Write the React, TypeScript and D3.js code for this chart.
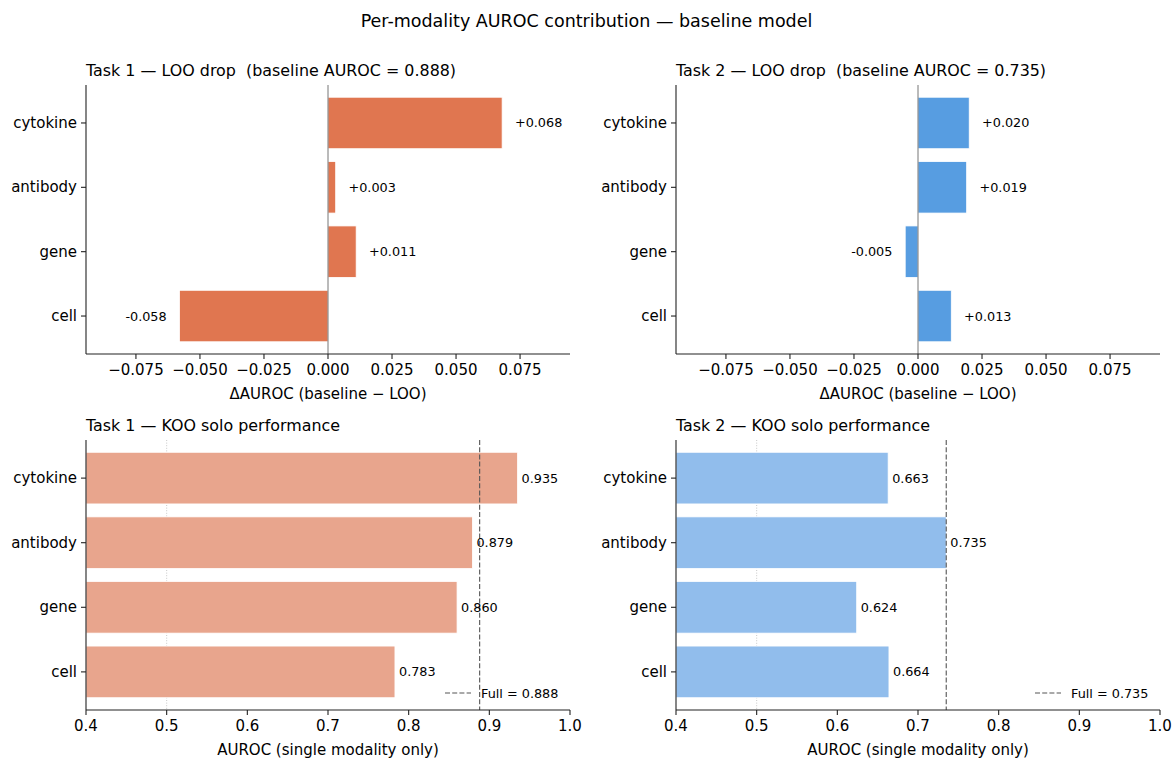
import React from 'react';
import * as d3 from 'd3';

// categories, top to bottom
const modalities = ['cytokine', 'antibody', 'gene', 'cell'];

// leave-one-out drop (baseline - LOO)
const task1Loo = [0.068, 0.003, 0.011, -0.058];
const task2Loo = [0.020, 0.019, -0.005, 0.013];

// keep-one-only solo AUROC
const task1Koo = [0.935, 0.879, 0.860, 0.783];
const task2Koo = [0.663, 0.735, 0.624, 0.664];

const baselines = [0.888, 0.735];

const looTicks = [-0.075, -0.05, -0.025, 0, 0.025, 0.05, 0.075];
const kooTicks = [0.4, 0.5, 0.6, 0.7, 0.8, 0.9, 1.0];

const FONT = 'DejaVu Sans, sans-serif';
const ORANGE = '#e07650';
const ORANGE_LIGHT = '#e8a58d';
const BLUE = '#579de1';
const BLUE_LIGHT = '#91bdec';

type PanelProps = {
  x0: number; y0: number; w: number; h: number;
  title: string; xLabel: string;
  values: number[]; color: string;
  kind: 'loo' | 'koo';
  baseline: number;
};

function Panel({ x0, y0, w, h, title, xLabel, values, color, kind, baseline }: PanelProps) {
  const xDomain: [number, number] = kind === 'loo' ? [-0.0945, 0.0945] : [0.4, 1.0];
  const ticks = kind === 'loo' ? looTicks : kooTicks;
  const xScale = d3.scaleLinear().domain(xDomain).range([x0, x0 + w]);
  const yScale = d3.scaleLinear().domain([-0.59, 3.59]).range([y0, y0 + h]);
  const barH = yScale(0.4) - yScale(0);
  const base = kind === 'loo' ? 0 : 0.4;
  const fmtTick = kind === 'loo'
    ? (t: number) => d3.format('.3f')(t).replace('-', '\u2212')
    : (t: number) => d3.format('.1f')(t);
  const bottom = y0 + h;

  return (
    <g fontFamily={FONT}>
      <text x={x0} y={y0 - 9} fontSize={15.9} fill="#000" style={{ whiteSpace: 'pre' }}>{title}</text>

      {kind === 'koo' && (
        <line x1={xScale(0.5)} x2={xScale(0.5)} y1={y0} y2={bottom}
          stroke="#bbb" strokeWidth={0.8} strokeDasharray="1,1.6" />
      )}

      {values.map((v, i) => {
        const xa = xScale(Math.min(base, v));
        const xb = xScale(Math.max(base, v));
        return (
          <rect key={modalities[i]} x={xa} y={yScale(i) - barH} width={xb - xa} height={barH * 2}
            fill={color} stroke="#fff" strokeWidth={0.8} />
        );
      })}

      {kind === 'loo' && (
        <line x1={xScale(0)} x2={xScale(0)} y1={y0} y2={bottom} stroke="#666" strokeWidth={0.9} />
      )}

      {kind === 'koo' && (
        <line x1={xScale(baseline)} x2={xScale(baseline)} y1={y0} y2={bottom}
          stroke="#555" strokeWidth={1.1} strokeDasharray="5,2.2" />
      )}

      {values.map((v, i) => {
        if (kind === 'loo') {
          const pos = v >= 0;
          return (
            <text key={'l' + i} x={xScale(pos ? v + 0.005 : v - 0.005)} y={yScale(i)}
              dominantBaseline="central" textAnchor={pos ? 'start' : 'end'} fontSize={12.8}>
              {(pos ? '+' : '') + v.toFixed(3)}
            </text>
          );
        }
        return (
          <text key={'l' + i} x={xScale(v + 0.005)} y={yScale(i)}
            dominantBaseline="central" textAnchor="start" fontSize={12.8}>
            {v.toFixed(3)}
          </text>
        );
      })}

      {kind === 'koo' && (
        <g>
          <line x1={x0 + w - 125} x2={x0 + w - 99} y1={bottom - 17} y2={bottom - 17}
            stroke="#555" strokeWidth={1.1} strokeDasharray="5,2.2" />
          <text x={x0 + w - 89} y={bottom - 17} dominantBaseline="central" fontSize={12.8}>
            {'Full = ' + baseline.toFixed(3)}
          </text>
        </g>
      )}

      {/* spines */}
      <line x1={x0} x2={x0} y1={y0} y2={bottom} stroke="#222" strokeWidth={1.1} />
      <line x1={x0} x2={x0 + w} y1={bottom} y2={bottom} stroke="#222" strokeWidth={1.1} />

      {/* y ticks */}
      {modalities.map((m, i) => (
        <g key={m}>
          <line x1={x0 - 5} x2={x0} y1={yScale(i)} y2={yScale(i)} stroke="#222" strokeWidth={1.1} />
          <text x={x0 - 9} y={yScale(i)} textAnchor="end" dominantBaseline="central" fontSize={15}>{m}</text>
        </g>
      ))}

      {/* x ticks */}
      {ticks.map(t => (
        <g key={t}>
          <line x1={xScale(t)} x2={xScale(t)} y1={bottom} y2={bottom + 5} stroke="#222" strokeWidth={1.1} />
          <text x={xScale(t)} y={bottom + 21} textAnchor="middle" fontSize={15}>{fmtTick(t)}</text>
        </g>
      ))}

      <text x={x0 + w / 2} y={bottom + 45} textAnchor="middle" fontSize={15}>{xLabel}</text>
    </g>
  );
}

export default function App() {
  const W = 1173, H = 760;
  return (
    <svg width={W} height={H} style={{ position: 'absolute', left: 0, top: 0, background: '#fff' }}>
      <rect width={W} height={H} fill="#fff" />
      <text x={W / 2} y={27} textAnchor="middle" fontSize={17.5} fontFamily={FONT}>
        Per-modality AUROC contribution — baseline model
      </text>
      <Panel x0={86} y0={85} w={484} h={269} kind="loo" values={task1Loo} color={ORANGE}
        baseline={baselines[0]}
        title={`Task 1 — LOO drop  (baseline AUROC = ${baselines[0].toFixed(3)})`}
        xLabel="ΔAUROC (baseline − LOO)" />
      <Panel x0={676} y0={85} w={484} h={269} kind="loo" values={task2Loo} color={BLUE}
        baseline={baselines[1]}
        title={`Task 2 — LOO drop  (baseline AUROC = ${baselines[1].toFixed(3)})`}
        xLabel="ΔAUROC (baseline − LOO)" />
      <Panel x0={86} y0={440} w={484} h={270} kind="koo" values={task1Koo} color={ORANGE_LIGHT}
        baseline={baselines[0]}
        title="Task 1 — KOO solo performance"
        xLabel="AUROC (single modality only)" />
      <Panel x0={676} y0={440} w={484} h={270} kind="koo" values={task2Koo} color={BLUE_LIGHT}
        baseline={baselines[1]}
        title="Task 2 — KOO solo performance"
        xLabel="AUROC (single modality only)" />
    </svg>
  );
}
